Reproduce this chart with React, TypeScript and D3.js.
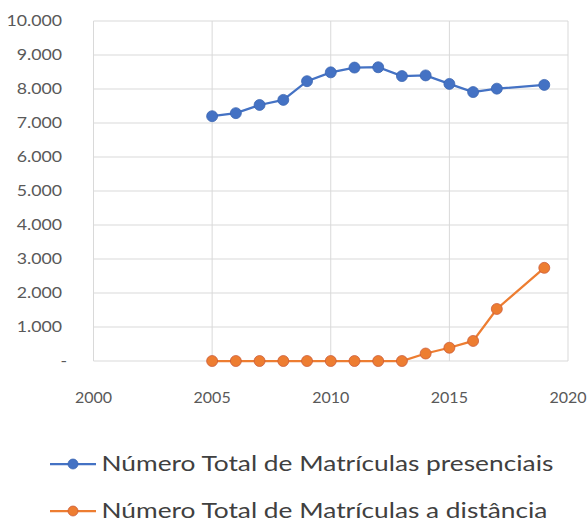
import { useEffect, useRef } from 'react';
import * as d3 from 'd3';

const years = [2005, 2006, 2007, 2008, 2009, 2010, 2011, 2012, 2013, 2014, 2015, 2016, 2017, 2019];
const presenciais = [7200, 7290, 7530, 7680, 8230, 8490, 8630, 8640, 8380, 8400, 8150, 7910, 8010, 8120];
const distancia = [0, 0, 0, 0, 0, 0, 0, 0, 0, 220, 390, 590, 1530, 2740];
const xTicks = [2000, 2005, 2010, 2015, 2020];
const yTicks = [0, 1000, 2000, 3000, 4000, 5000, 6000, 7000, 8000, 9000, 10000];
const seriesNames = ['Número Total de Matrículas presenciais', 'Número Total de Matrículas a distância'];
const seriesColors = ['#4472c4', '#ed7d31'];
const markerStroke = ['#3a64b0', '#c9593a'];

const W = 588, H = 521;
const font = 'Lato, "Open Sans", sans-serif';
// the reference text is drawn wider than its height suggests
const legendStretch = 1.29;
const tickStretch = 1.16;

export default function App() {
  const ref = useRef<SVGSVGElement>(null);

  useEffect(() => {
    const svg = d3.select(ref.current);
    svg.selectAll('*').remove();

    const x = d3.scaleLinear().domain([2000, 2020]).range([93.5, 568]);
    const y = d3.scaleLinear().domain([0, 10000]).range([361, 21]);

    const grid = svg.append('g');
    grid.selectAll('.hg').data(yTicks).enter().append('line')
      .attr('x1', x(2000)).attr('x2', x(2020))
      .attr('y1', d => y(d)).attr('y2', d => y(d))
      .attr('stroke', '#d9d9d9').attr('stroke-width', 1);
    grid.selectAll('.vg').data(xTicks).enter().append('line')
      .attr('x1', d => x(d)).attr('x2', d => x(d))
      .attr('y1', y(10000)).attr('y2', y(0))
      .attr('stroke', '#d9d9d9').attr('stroke-width', 1);

    const fmt = (v: number) => v === 0 ? '-' : d3.format(',')(v).replace(/,/g, '.');
    svg.append('g').selectAll('text').data(yTicks).enter().append('text')
      .attr('transform', d => `translate(${d === 0 ? 67 : 62},${y(d) + 5}) scale(${tickStretch},1)`)
      .attr('text-anchor', 'end')
      .attr('font-family', font).attr('font-size', 15.3).attr('fill', '#595959')
      .text(fmt);

    svg.append('g').selectAll('text').data(xTicks).enter().append('text')
      .attr('x', d => x(d))
      .attr('y', 403)
      .attr('text-anchor', 'middle')
      .attr('font-family', font).attr('font-size', 16).attr('fill', '#595959')
      .text(d => String(d));

    const data = [presenciais, distancia];
    const line = d3.line<number>().x((_, i) => x(years[i])).y(d => y(d));
    data.forEach((vals, s) => {
      const g = svg.append('g');
      g.append('path').attr('d', line(vals))
        .attr('fill', 'none').attr('stroke', seriesColors[s]).attr('stroke-width', 2.25);
      g.selectAll('circle').data(vals).enter().append('circle')
        .attr('cx', (_, i) => x(years[i])).attr('cy', d => y(d))
        .attr('r', 5.5)
        .attr('fill', seriesColors[s])
        .attr('stroke', markerStroke[s]).attr('stroke-width', 0.75);
    });

    const legend = svg.append('g');
    seriesNames.forEach((name, s) => {
      const ly = 464 + s * 47;
      legend.append('line').attr('x1', 50).attr('x2', 96).attr('y1', ly).attr('y2', ly)
        .attr('stroke', seriesColors[s]).attr('stroke-width', 2.25);
      legend.append('circle').attr('cx', 73).attr('cy', ly).attr('r', 5)
        .attr('fill', seriesColors[s])
        .attr('stroke', markerStroke[s]).attr('stroke-width', 0.75);
      legend.append('text')
        .attr('transform', `translate(101.5,${ly + 7}) scale(${legendStretch},1)`)
        .attr('font-family', font).attr('font-size', 20.4).attr('fill', '#404040')
        .text(name);
    });
  }, []);

  return (
    <svg ref={ref} width={W} height={H}
      style={{ position: 'absolute', left: 0, top: 0, background: '#fff' }} />
  );
}
